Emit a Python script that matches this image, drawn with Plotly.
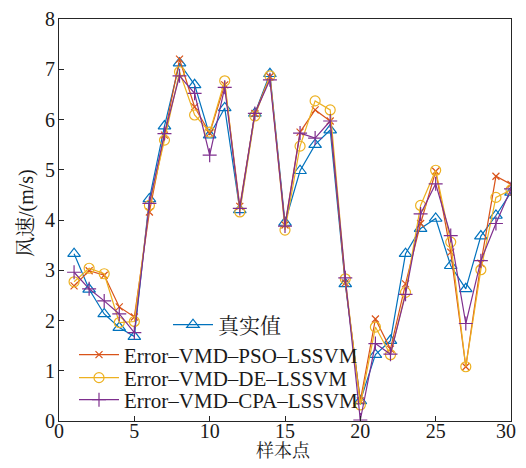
import plotly.graph_objects as go

x = list(range(1, 31))
true_vals = [3.33, 2.62, 2.13, 1.86, 1.68, 4.42, 5.87, 7.12, 6.69, 5.69,
             6.23, 4.2, 6.12, 6.91, 3.95, 4.98, 5.5, 5.79, 2.73, 0.4,
             1.32, 1.6, 3.33, 3.83, 4.03, 3.09, 2.63, 3.68, 4.09, 4.55]
pso_vals = [2.69, 2.99, 2.9, 2.27, 2.07, 4.16, 5.69, 7.2, 6.25, 5.73,
            6.69, 4.27, 6.12, 6.85, 3.9, 5.75, 6.19, 5.97, 2.75, 0.4,
            2.03, 1.43, 2.73, 3.93, 4.97, 3.36, 1.08, 3.14, 4.87, 4.71]
de_vals = [2.77, 3.04, 2.93, 1.96, 1.98, 4.29, 5.59, 6.95, 6.09, 5.75,
           6.77, 4.16, 6.07, 6.87, 3.8, 5.47, 6.37, 6.19, 2.83, 0.32,
           1.87, 1.32, 2.56, 4.29, 4.99, 3.56, 1.08, 3.01, 4.45, 4.6]
cpa_vals = [2.96, 2.63, 2.39, 2.13, 1.76, 4.33, 5.72, 6.87, 6.52, 5.29,
            6.64, 4.23, 6.12, 6.79, 3.88, 5.73, 5.63, 5.97, 2.85, 0.02,
            1.54, 1.33, 2.52, 4.12, 4.72, 3.69, 1.94, 3.19, 3.93, 4.62]

x_ticks = [0, 5, 10, 15, 20, 25, 30]
y_ticks = [0, 1, 2, 3, 4, 5, 6, 7, 8]

names = ["真实值", "Error–VMD–PSO–LSSVM", "Error–VMD–DE–LSSVM", "Error–VMD–CPA–LSSVM"]
colors = ["#0072BD", "#D95319", "#EDB120", "#7E2F8E"]
symbols = ["triangle-up-open", "x-thin-open", "circle-open", "cross-thin-open"]
sizes = [11, 7, 10, 10]
series = [true_vals, pso_vals, de_vals, cpa_vals]
legend_ids = ["legend", "legend2", "legend3", "legend4"]

FONT = "Liberation Serif, Times New Roman, Noto Serif CJK SC, Noto Sans CJK SC, serif"
TICK_SIZE = 20

fig = go.Figure()
for i in range(4):
    fig.add_trace(go.Scatter(
        x=x, y=series[i], mode="lines+markers", name=names[i],
        line=dict(color=colors[i], width=1.2),
        marker=dict(symbol=symbols[i], size=sizes[i], color=colors[i],
                    line=dict(color=colors[i], width=1.2)),
        legend=legend_ids[i], showlegend=True,
    ))

axis_common = dict(showline=True, linecolor="#262626", linewidth=1.2, mirror=True,
                   ticks="inside", ticklen=5, tickcolor="#262626", showgrid=False,
                   zeroline=False, automargin=False,
                   tickfont=dict(family=FONT, size=TICK_SIZE, color="#1a1a1a"))

# page has an 8px body margin; plot area in page pixels: x 59..511, y 19..421
def py(pix):
    return (421 - pix) / 402.0

def px(pix):
    return (pix - 59) / 452.0

leg_common = dict(xanchor="left", yanchor="middle", bgcolor="rgba(0,0,0,0)",
                  font=dict(family=FONT, size=21, color="#1a1a1a"), itemwidth=40,
                  tracegroupgap=0)

# the last x tick label sits at the figure's right edge; draw it right-aligned so it is not clipped
annotations = [
    dict(text=str(x_ticks[-1]), xref="x", yref="paper", x=x_ticks[-1], y=py(431),
         xanchor="right", yanchor="middle", xshift=7, showarrow=False,
         font=dict(family=FONT, size=TICK_SIZE, color="#1a1a1a")),
    dict(text="样本点", xref="paper", yref="paper", x=px(283), y=py(451),
         xanchor="center", yanchor="middle", showarrow=False,
         font=dict(family=FONT, size=18)),
    dict(text="风速/(m/s)", xref="paper", yref="paper", x=px(26), y=py(213),
         xanchor="center", yanchor="middle", textangle=-90, showarrow=False,
         font=dict(family=FONT, size=20)),
]

fig.update_layout(
    width=510, height=452,
    margin=dict(l=51, r=7, t=11, b=39),
    paper_bgcolor="white", plot_bgcolor="white",
    showlegend=True,
    font=dict(family=FONT, size=18, color="#1a1a1a"),
    xaxis=dict(range=[0, 30], tickvals=x_ticks[:-1], ticklabelstandoff=-8, **axis_common),
    yaxis=dict(range=[0, 8], tickvals=y_ticks, ticklabelstandoff=-1, **axis_common),
    legend=dict(x=px(168), y=py(325), **leg_common),
    legend2=dict(x=px(74), y=py(355), **leg_common),
    legend3=dict(x=px(74), y=py(378), **leg_common),
    legend4=dict(x=px(74), y=py(400), **leg_common),
    annotations=annotations,
)

fig.write_html("out.html")
